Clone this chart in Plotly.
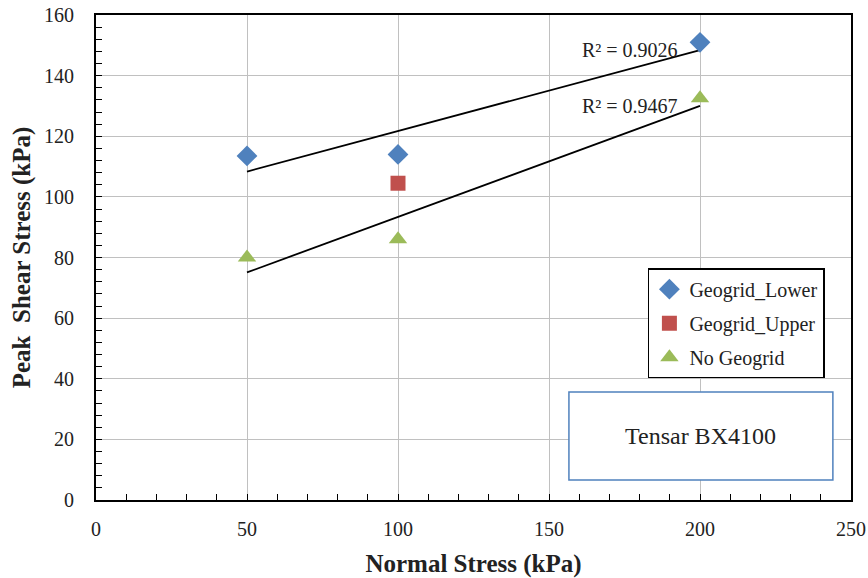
import numpy as np
import plotly.graph_objects as go

# Direct shear test results
lower_x = [50, 100, 200]
lower_y = [113.5, 114.0, 151.0]
upper_x = [100]
upper_y = [104.5]
none_x = [50, 100, 200]
none_y = [80.0, 86.0, 132.5]

r2_labels = ["R² = 0.9026", "R² = 0.9467"]
x_ticks = [0, 50, 100, 150, 200, 250]
y_ticks = [0, 20, 40, 60, 80, 100, 120, 140, 160]

SERIF = "Liberation Serif, Times New Roman, serif"
BLUE = "#4F81BD"
RED = "#C0504D"
GREEN = "#9BBB59"
INK = "#222222"


def linear_fit(xs, ys):
    k, b = np.polyfit(xs, ys, 1)
    x0, x1 = min(xs), max(xs)
    return [x0, x1], [k * x0 + b, k * x1 + b]


fig = go.Figure()

fx, fy = linear_fit(lower_x, lower_y)
fig.add_trace(go.Scatter(x=fx, y=fy, mode="lines", line=dict(color="black", width=1.8),
                         showlegend=False, hoverinfo="skip"))
gx, gy = linear_fit(none_x, none_y)
fig.add_trace(go.Scatter(x=gx, y=gy, mode="lines", line=dict(color="black", width=1.8),
                         showlegend=False, hoverinfo="skip"))

fig.add_trace(go.Scatter(x=lower_x, y=lower_y, mode="markers", name="Geogrid_Lower",
                         legendgroup="a",
                         marker=dict(symbol="diamond", size=16, color=BLUE)))
fig.add_trace(go.Scatter(x=upper_x, y=upper_y, mode="markers", name="Geogrid_Upper",
                         legendgroup="b",
                         marker=dict(symbol="square", size=15, color=RED)))
fig.add_trace(go.Scatter(x=none_x, y=none_y, mode="markers", name="No Geogrid",
                         legendgroup="c",
                         marker=dict(symbol="triangle-up", size=16, color=GREEN)))

# R² labels next to the trend lines
for yv, label in zip([fy[1], gy[1]], r2_labels):
    fig.add_annotation(x=200, y=yv, text=label, showarrow=False,
                       xanchor="right", yanchor="bottom", xshift=-20, yshift=-13,
                       font=dict(family=SERIF, size=20, color=INK))

# Material label box
fig.add_shape(type="rect", x0=156.6, x1=244, y0=6.6, y1=35.6, xref="x", yref="y",
              line=dict(color=BLUE, width=1.5), fillcolor="white", layer="above")
fig.add_annotation(x=200.3, y=21.1, text="Tensar BX4100", showarrow=False,
                   font=dict(family=SERIF, size=24, color=INK))

axis_common = dict(
    showgrid=True, gridcolor="#C0C0C0", gridwidth=1.3, zeroline=False,
    showline=True, linecolor="black", linewidth=1.8, mirror=True,
    ticks="inside", ticklen=6, tickcolor="black", tickwidth=1.3,
    tickfont=dict(family=SERIF, size=20, color=INK), automargin=False,
)

fig.update_layout(
    width=868, height=578,
    margin=dict(l=96, r=17, t=15, b=78),
    paper_bgcolor="white", plot_bgcolor="white",
    font=dict(family=SERIF, size=20, color=INK),
    legend=dict(x=0.731, y=0.478, xanchor="left", yanchor="top",
                bordercolor="black", borderwidth=1.5, bgcolor="white",
                font=dict(family=SERIF, size=20, color=INK), tracegroupgap=5,
                itemwidth=30),
    xaxis=dict(range=[0, 250], tickvals=x_ticks, ticklabelstandoff=10,
               minor=dict(dtick=10, ticks="inside", ticklen=6, tickcolor="black",
                          tickwidth=1.3, showgrid=False),
               title=dict(text="<b>Normal Stress (kPa)</b>",
                          font=dict(family=SERIF, size=25, color=INK), standoff=16),
               **axis_common),
    yaxis=dict(range=[0, 160], tickvals=y_ticks, ticklabelstandoff=16,
               minor=dict(dtick=4, ticks="inside", ticklen=6, tickcolor="black",
                          tickwidth=1.3, showgrid=False),
               title=dict(text="<b>Peak&nbsp; Shear Stress (kPa)</b>",
                          font=dict(family=SERIF, size=25, color=INK), standoff=6),
               **axis_common),
)

fig.write_html("out.html")
